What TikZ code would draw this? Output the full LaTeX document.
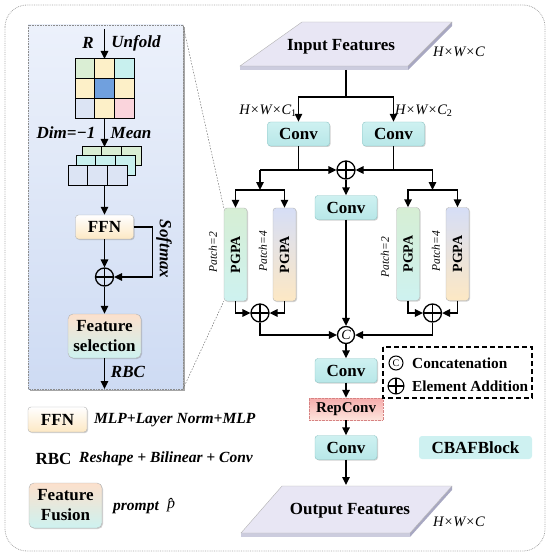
\documentclass[tikz,border=0pt]{standalone}
\usepackage{fontspec}
\setmainfont{Liberation Serif}
\usetikzlibrary{arrows.meta,shadows}

\definecolor{convtop}{RGB}{206,241,241}
\definecolor{convbot}{RGB}{184,231,232}
\definecolor{convline}{RGB}{140,196,196}
\definecolor{paneltop}{RGB}{236,241,251}
\definecolor{panelbot}{RGB}{206,219,243}
\definecolor{slabtop}{RGB}{232,230,244}
\definecolor{slabside}{RGB}{168,168,194}
\definecolor{slabfront}{RGB}{204,204,222}
\definecolor{cellgreen}{RGB}{218,238,212}
\definecolor{cellyellow}{RGB}{253,240,200}
\definecolor{cellcyan}{RGB}{200,240,238}
\definecolor{cellblue}{RGB}{112,160,222}
\definecolor{cellpale}{RGB}{220,228,244}
\definecolor{cellpink}{RGB}{250,212,220}
\definecolor{peach}{RGB}{252,224,204}
\definecolor{mint}{RGB}{206,242,240}
\definecolor{cream}{RGB}{253,232,196}
\definecolor{lilac}{RGB}{214,222,246}
\definecolor{leaf}{RGB}{214,238,212}
\definecolor{reptop}{RGB}{246,172,172}
\definecolor{repbot}{RGB}{253,228,220}
\definecolor{repline}{RGB}{214,130,130}

\tikzset{
  arr/.style={-{Triangle[length=8pt,width=7.5pt]},line width=1.5pt},
  wire/.style={line width=1.5pt},
  zoomline/.style={black!55,dash pattern=on 1.5pt off 1.5pt,line width=.5pt},
  boxshadow/.style={drop shadow={shadow xshift=1pt,shadow yshift=-1pt,opacity=.3,fill=black!60}},
  bigbf/.style={inner sep=0pt,font=\bfseries\fontsize{17}{20}\selectfont},
  labelbi/.style={inner sep=0pt,font=\bfseries\itshape\fontsize{17}{20}\selectfont},
  legbi/.style={inner sep=0pt,font=\bfseries\itshape\fontsize{15.5}{18}\selectfont},
  legtxt/.style={inner sep=0pt,font=\bfseries\fontsize{15.3}{18}\selectfont},
  dimlab/.style={inner sep=0pt,font=\itshape\fontsize{14.5}{17}\selectfont},
  patchlab/.style={inner sep=0pt,rotate=90,font=\itshape\fontsize{11.5}{13}\selectfont},
  convbox/.style={draw=convline,rounded corners=3pt,top color=convtop,bottom color=convbot,minimum width=62pt,minimum height=24pt,inner sep=0pt,font=\bfseries\fontsize{17}{20}\selectfont,boxshadow},
  pgpabox/.style={draw=black!30,rounded corners=3pt,minimum width=23pt,minimum height=93pt,inner sep=0pt,font=\bfseries\fontsize{14}{16}\selectfont,boxshadow},
  ffnbox/.style={draw=black!30,rounded corners=3pt,top color=white,bottom color=cream,minimum width=58pt,minimum height=24pt,inner sep=0pt,font=\bfseries\fontsize{17}{20}\selectfont,boxshadow},
  fusebox/.style={draw=black!30,rounded corners=5pt,top color=peach,bottom color=mint,align=center,inner sep=0pt,font=\bfseries\fontsize{17}{20}\selectfont,boxshadow},
  repbox/.style={draw=repline,densely dotted,top color=reptop,bottom color=repbot,minimum width=74pt,minimum height=22pt,inner sep=0pt,font=\bfseries\fontsize{15}{18}\selectfont},
  addnode/.style={circle,draw,line width=1.3pt,minimum size=18pt,inner sep=0pt,path picture={\draw[line width=1.3pt] (path picture bounding box.north)--(path picture bounding box.south) (path picture bounding box.west)--(path picture bounding box.east);}},
  catnode/.style={circle,draw,line width=1.3pt,minimum size=17pt,inner sep=0pt,fill=white,font=\itshape\fontsize{14}{16}\selectfont}
}

\begin{document}
\begin{tikzpicture}[x=1pt,y=-1pt]
\useasboundingbox (0,0) rectangle (550,556);
\draw[black!35,densely dotted,line width=.8pt,rounded corners=22pt] (5,5) rectangle (545,551);

% detail panel
\fill[black!35] (30,27) rectangle (185,391);
\shade[top color=paneltop,bottom color=panelbot] (28,25) rectangle (183,389);
\draw[black!45,densely dotted,line width=.6pt] (28,25) rectangle (183,389);

\foreach \r/\k/\c in {0/0/cellgreen,0/1/cellyellow,0/2/cellcyan,1/0/cellyellow,1/1/cellblue,1/2/cellyellow,2/0/cellpale,2/1/cellyellow,2/2/cellpink}
  \filldraw[fill=\c,line width=1pt] ({75+19.67*\k},{59+19.67*\r}) rectangle ++(19.67,19.67);
\foreach \x/\y/\c in {82/147/cellgreen,76/156/cellcyan,68/166/cellpale}
  \foreach \k in {0,1,2}
    \filldraw[fill=\c,line width=1pt] ({\x+19.67*\k},\y) rectangle ++(19.67,19);

\coordinate (unfoldIn) at (104.5,29);
\coordinate (gridN) at (104.5,59);
\coordinate (gridS) at (104.5,118);
\coordinate (stackN) at (104.5,147);
\coordinate (stackS) at (104.5,185);
\coordinate (rbcOut) at (104.5,389);
\node[labelbi] (rLab) at (88,43) {R};
\node[labelbi] (unfoldLab) at (136,43) {Unfold};
\node[labelbi] (dimLab) at (66,133) {Dim=−1};
\node[labelbi] (meanLab) at (131,133) {Mean};
\node[ffnbox] (ffn) at (104.5,227) {FFN};
\node[addnode] (addS) at (104.5,277) {};
\node[labelbi,rotate=-90] (softLab) at (164,249) {Softmax};
\node[fusebox,minimum width=73pt,minimum height=44pt] (fsel) at (104.5,336) {Feature\\selection};
\node[labelbi] (rbcLab) at (128,372) {RBC};

\draw[arr] (unfoldIn) -- (gridN);
\draw[arr] (gridS) -- (stackN);
\draw[arr] (stackS) -- (ffn.north);
\draw[arr] (ffn.south) -- (addS.north);
\draw[arr] (ffn.east) -- ++(19,0) |- (addS.east);
\draw[arr] (addS.south) -- (fsel.north);
\draw[arr] (fsel.south) -- (rbcOut);

% main block
\fill[slabside] (452,22) -- (452,26) -- (408,70) -- (408,66) -- cycle;
\fill[slabfront] (240,66) rectangle (408,70);
\filldraw[fill=slabtop,draw=black!30] (302,22) -- (452,22) -- (408,66) -- (240,66) -- cycle;
\node[bigbf] (inFeat) at (341,47) {Input Features};
\node[dimlab] (inDim) at (459,52) {H×W×C};
\coordinate (inOut) at (346,70);
\coordinate (split) at (346,97);

\node[convbox] (convA) at (298.5,134) {Conv};
\node[convbox] (convB) at (393.5,134) {Conv};
\node[dimlab,anchor=east] (dimA) at (297,111) {H×W×C\textsubscript{\upshape 1}};
\node[dimlab,anchor=west] (dimB) at (395,111) {H×W×C\textsubscript{\upshape 2}};
\node[addnode] (addM) at (346,170) {};
\node[convbox] (convM) at (346,207.5) {Conv};

\coordinate (forkLtop) at (260,170);
\coordinate (forkL) at (260,190);
\coordinate (forkRtop) at (432.5,170);
\coordinate (forkR) at (432.5,190);

\node[pgpabox,top color=leaf,bottom color=mint] (pgpaA) at (235.5,254.5) {\rotatebox{90}{PGPA}};
\node[pgpabox,top color=lilac,bottom color=cream] (pgpaB) at (284.5,254.5) {\rotatebox{90}{PGPA}};
\node[pgpabox,top color=leaf,bottom color=mint] (pgpaC) at (408,254) {\rotatebox{90}{PGPA}};
\node[pgpabox,top color=lilac,bottom color=cream] (pgpaD) at (457.5,254) {\rotatebox{90}{PGPA}};
\node[patchlab] (patchA) at (213,252) {Patch=2};
\node[patchlab] (patchB) at (263,251) {Patch=4};
\node[patchlab] (patchC) at (385,257) {Patch=2};
\node[patchlab] (patchD) at (436,251) {Patch=4};

\node[addnode] (addL) at (260,313) {};
\node[addnode] (addR) at (432.5,313) {};
\node[catnode] (cat) at (346,335) {C};

\draw[wire] (inOut) -- (split);
\draw[arr] (split) -| (convA.north);
\draw[arr] (split) -| (convB.north);
\draw[arr] (convA.south) |- (addM.west);
\draw[arr] (convB.south) |- (addM.east);
\draw[wire] (forkLtop) -- (forkLtop -| convA.south);
\draw[wire] (forkRtop) -- (forkRtop -| convB.south);
\draw[arr] (forkLtop) -- (forkL);
\draw[arr] (forkRtop) -- (forkR);
\draw[arr] (forkL) -| (pgpaA.north);
\draw[arr] (forkL) -| (pgpaB.north);
\draw[arr] (forkR) -| (pgpaC.north);
\draw[arr] (forkR) -| (pgpaD.north);
\draw[arr] (addM.south) -- (convM.north);
\draw[arr] (pgpaA.south) |- (addL.west);
\draw[arr] (pgpaB.south) |- (addL.east);
\draw[arr] (pgpaC.south) |- (addR.west);
\draw[arr] (pgpaD.south) |- (addR.east);
\draw[arr] (convM.south) -- (cat.north);
\draw[arr] (addL.south) |- (cat.west);
\draw[arr] (addR.south) |- (cat.east);

\draw[zoomline] (183,25) -- (pgpaA.north west);
\draw[zoomline] (183,389) -- (pgpaA.south west);

\node[convbox] (convC) at (346,370.5) {Conv};
\node[repbox] (rep) at (346,409) {RepConv};
\node[convbox] (convD) at (346,447.5) {Conv};
\coordinate (outIn) at (346,485);
\draw[arr] (cat.south) -- (convC.north);
\draw[arr] (convC.south) -- (rep.north);
\draw[arr] (rep.south) -- (convD.north);
\draw[arr] (convD.south) -- (outIn);

\fill[slabside] (452,486) -- (452,490) -- (410,537) -- (410,533) -- cycle;
\fill[slabfront] (241,533) rectangle (410,537);
\filldraw[fill=slabtop,draw=black!30] (282,486) -- (452,486) -- (410,533) -- (241,533) -- cycle;
\node[bigbf] (outFeat) at (350,511) {Output Features};
\node[dimlab] (outDim) at (459,522) {H×W×C};

% keys
\draw[line width=1.3pt,dash pattern=on 5pt off 3pt] (383,347) rectangle (532,398);
\node[catnode,minimum size=14pt,line width=1pt,font=\fontsize{10}{12}\selectfont] (catKey) at (396,363) {C};
\node[legtxt,anchor=west] (catTxt) at (412,363) {Concatenation};
\node[addnode,minimum size=16pt,line width=1pt] (addKey) at (396,386) {};
\node[legtxt,anchor=west] (addTxt) at (412,386) {Element Addition};
\node[fill=convtop,rounded corners=3pt,minimum width=113pt,minimum height=23pt,bigbf] (cbaf) at (475.5,447.5) {CBAFBlock};

\node[ffnbox,minimum width=59pt,minimum height=25pt] (ffnKey) at (57.5,419.5) {FFN};
\node[legbi,anchor=west] (ffnTxt) at (94,420) {MLP+Layer Norm+MLP};
\node[bigbf] (rbcKey) at (53.5,459) {RBC};
\node[legbi,anchor=west] (rbcTxt) at (79,459) {Reshape + Bilinear + Conv};
\node[fusebox,minimum width=73pt,minimum height=45pt] (fuseKey) at (65.5,505.5) {Feature\\Fusion};
\node[legbi] (promptTxt) at (136,508) {prompt};
\node[inner sep=0pt,font=\itshape\fontsize{16}{18}\selectfont] (pHat) at (171,505) {\^{p}};
\end{tikzpicture}
\end{document}
